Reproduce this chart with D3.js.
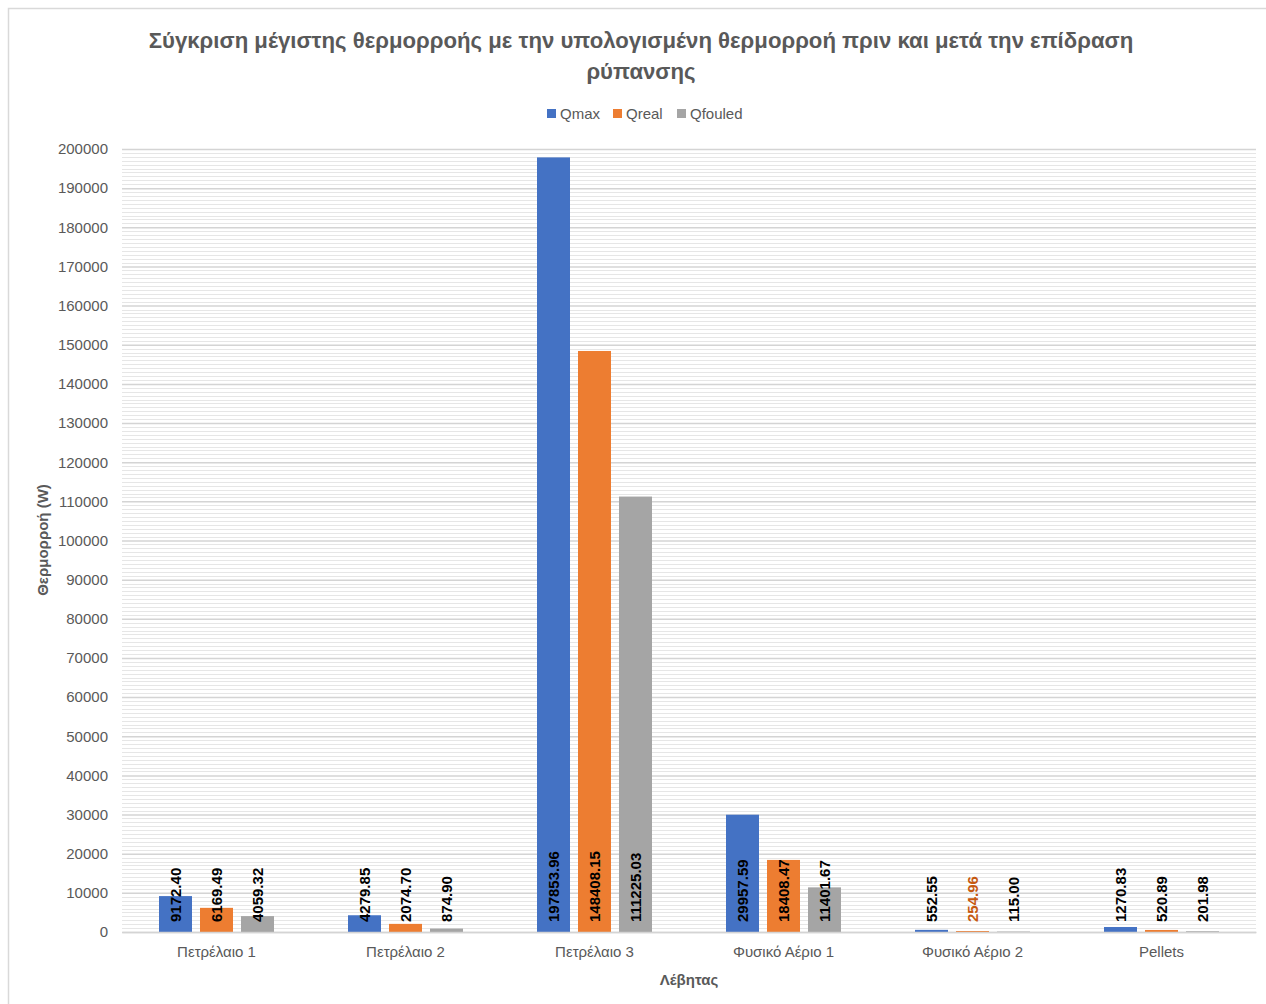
<!DOCTYPE html>
<html>
<head>
<meta charset="utf-8">
<script src="https://cdn.jsdelivr.net/npm/d3@7"></script>
<style>
  html, body { margin: 0; padding: 0; background: #fff; }
  svg { display: block; }
  text { font-family: "Liberation Sans", Arial, sans-serif; }
</style>
</head>
<body>
<svg id="chart" width="1266" height="1004"></svg>
<script>
// Boilers (categories) and heat-flow values per series, in watts
const categories = ["Πετρέλαιο 1", "Πετρέλαιο 2", "Πετρέλαιο 3", "Φυσικό Αέριο 1", "Φυσικό Αέριο 2", "Pellets"];
const seriesNames = ["Qmax", "Qreal", "Qfouled"];
const qmax    = [9172.40, 4279.85, 197853.96, 29957.59, 552.55, 1270.83];
const qreal   = [6169.49, 2074.70, 148408.15, 18408.47, 254.96, 520.89];
const qfouled = [4059.32, 874.90, 111225.03, 11401.67, 115.00, 201.98];
const yTicks  = d3.range(0, 200001, 10000);

const titleLines = ["Σύγκριση μέγιστης θερμορροής με την υπολογισμένη θερμορροή πριν και μετά την επίδραση", "ρύπανσης"];
const yTitle = "Θερμορροή (W)";
const xTitle = "Λέβητας";

const seriesValues = [qmax, qreal, qfouled];
const colors = ["#4472C4", "#ED7D31", "#A5A5A5"];
const textGray = "#595959";

const svg = d3.select("#chart");

// outer chart frame
svg.append("rect")
  .attr("x", 8.5).attr("y", 8.5).attr("width", 1270).attr("height", 1010)
  .attr("fill", "none").attr("stroke", "#d9d9d9").attr("stroke-width", 1.5);

const plot = { left: 122, right: 1256, top: 149, bottom: 932 };

const x = d3.scaleBand().domain(categories).range([plot.left, plot.right]).padding(0);
const xSub = d3.scaleBand().domain(seriesNames)
  .range([37, x.bandwidth() - 37]).paddingInner(8 / 41).paddingOuter(0);
const y = d3.scaleLinear().domain([0, 200000]).range([plot.bottom, plot.top]);

// minor gridlines
const g = svg.append("g");
g.selectAll("line.minor")
  .data(d3.range(1000, 200001, 1000).filter(v => v % 10000 !== 0))
  .join("line").attr("class", "minor")
  .attr("x1", plot.left).attr("x2", plot.right)
  .attr("y1", d => Math.round(y(d)) + 0.5).attr("y2", d => Math.round(y(d)) + 0.5)
  .attr("stroke", "#e6e6e6").attr("stroke-width", 1);

// major gridlines + y axis labels
const yAxis = d3.axisLeft(y).tickValues(yTicks).tickSize(-(plot.right - plot.left)).tickPadding(14).tickFormat(d3.format("d"));
const ya = svg.append("g").attr("transform", `translate(${plot.left},0)`).call(yAxis);
ya.select(".domain").remove();
ya.selectAll(".tick line").attr("stroke", "#d4d4d4").attr("stroke-width", 1.5);
ya.selectAll(".tick text").attr("fill", textGray).style("font-size", "15px");

// bars
const groups = svg.append("g").selectAll("g.cat")
  .data(categories).join("g")
  .attr("class", "cat")
  .attr("transform", d => `translate(${x(d)},0)`);

const rows = (c, i) => seriesNames.map((s, k) => ({ series: s, k, value: seriesValues[k][i] }));

groups.selectAll("rect")
  .data((c, i) => rows(c, i))
  .join("rect")
  .attr("x", d => xSub(d.series))
  .attr("width", xSub.bandwidth())
  .attr("y", d => y(d.value))
  .attr("height", d => plot.bottom - y(d.value))
  .attr("fill", d => colors[d.k]);

// x axis line + category labels
const xAxis = d3.axisBottom(x).tickSize(0).tickPadding(14);
const xa = svg.append("g").attr("transform", `translate(0,${plot.bottom})`).call(xAxis);
xa.select(".domain").attr("stroke", "#d4d4d4").attr("stroke-width", 1.5);
xa.selectAll(".tick text").attr("fill", textGray).style("font-size", "15px");

// value labels, rotated, anchored at the bar base
const labelColor = (ci, k) => (ci === 4 && k === 1) ? "#C65911" : "#000";
groups.each(function (c, ci) {
  d3.select(this).selectAll("text.val")
    .data(rows(c, ci))
    .join("text").attr("class", "val")
    .attr("transform", d => `translate(${xSub(d.series) + xSub.bandwidth() / 2},${plot.bottom - 10}) rotate(-90)`)
    .attr("dy", "0.36em")
    .attr("fill", d => labelColor(ci, d.k))
    .style("font-size", "15px").style("font-weight", "bold")
    .text(d => d.value.toFixed(2));
});

// title
const title = svg.append("g");
const tl = title.selectAll("text").data(titleLines).join("text")
  .attr("x", 641).attr("y", (d, i) => 48 + i * 31)
  .attr("text-anchor", "middle")
  .attr("fill", textGray)
  .style("font-size", "20px").style("font-weight", "bold")
  .text(d => d);
// fit the long first line to its intended width
const w0 = tl.node().getComputedTextLength();
const fs = 20 * 985 / w0;
tl.style("font-size", fs.toFixed(2) + "px");

// legend
const legendItems = [
  { name: "Qmax", x: 547 },
  { name: "Qreal", x: 613 },
  { name: "Qfouled", x: 677 }
];
const lg = svg.append("g").selectAll("g").data(legendItems).join("g")
  .attr("transform", d => `translate(${d.x},109)`);
lg.append("rect").attr("width", 9).attr("height", 9).attr("fill", (d, i) => colors[i]);
lg.append("text").attr("x", 13).attr("y", 10).attr("fill", textGray)
  .style("font-size", "15px").text(d => d.name);

// axis titles
svg.append("text")
  .attr("transform", `translate(48,540) rotate(-90)`)
  .attr("text-anchor", "middle").attr("fill", textGray)
  .style("font-size", "15px").style("font-weight", "bold")
  .text(yTitle);

svg.append("text")
  .attr("x", 689).attr("y", 985)
  .attr("text-anchor", "middle").attr("fill", textGray)
  .style("font-size", "15px").style("font-weight", "bold")
  .text(xTitle);
</script>
</body>
</html>
